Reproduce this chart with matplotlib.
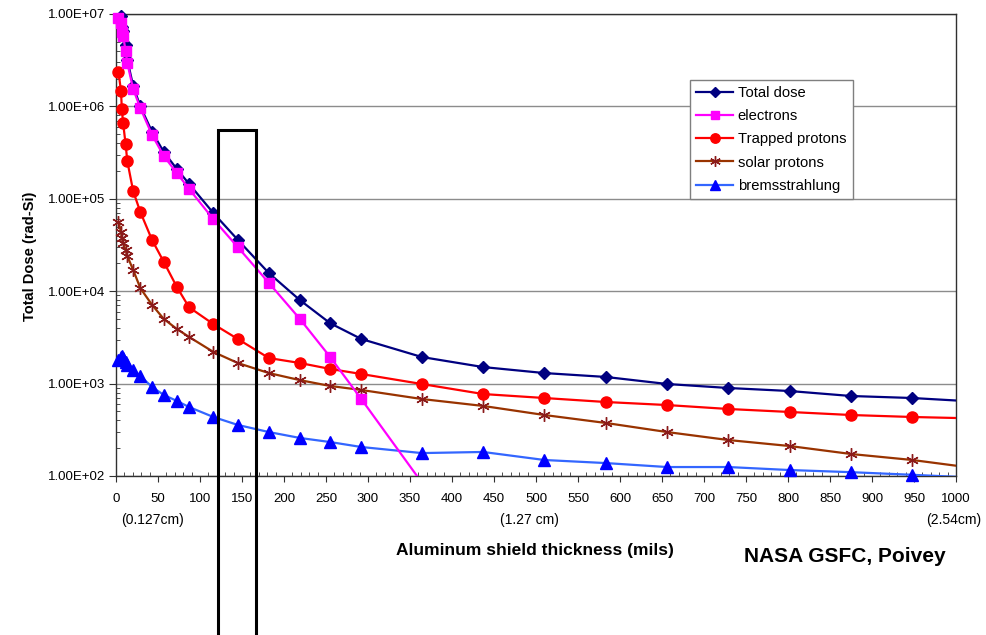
import matplotlib
matplotlib.use("Agg")
import matplotlib.pyplot as plt
from matplotlib.lines import Line2D
from matplotlib.patches import Rectangle
from matplotlib.ticker import FixedLocator, LogLocator, NullFormatter

plt.rcParams['font.family'] = ['Liberation Sans', 'DejaVu Sans']

# shield thickness in mils
thickness = [3, 6, 7, 8.5, 11.5, 13.5, 20.5, 29, 43, 57, 72.5, 87, 116, 145, 182, 219,
             255, 292, 364, 437, 510, 583, 656, 729, 802, 875, 948, 1021]

total_dose = [1.14e7, 9.5e6, 7.3e6, 6.5e6, 4.6e6, 3.2e6, 1.66e6, 1.0e6, 5.3e5, 3.2e5,
              2.1e5, 1.45e5, 7.0e4, 3.6e4, 1.57e4, 8.0e3, 4.5e3, 3.04e3, 1.94e3, 1.51e3,
              1.30e3, 1.18e3, 990, 896, 831, 734, 698, 640]
electrons = [9.05e6, 8.0e6, 6.4e6, 5.8e6, 4.0e6, 2.95e6, 1.54e6, 9.6e5, 4.9e5, 2.9e5,
             1.9e5, 1.28e5, 6.0e4, 3.0e4, 1.23e4, 5.0e3, 1.94e3, 681, 85]
trapped_protons = [2.36e6, 1.47e6, 9.4e5, 6.6e5, 3.9e5, 2.56e5, 1.21e5, 7.2e4, 3.58e4,
                   2.07e4, 1.11e4, 6.7e3, 4.4e3, 3.04e3, 1.89e3, 1.67e3, 1.44e3, 1.27e3,
                   990, 771, 698, 632, 586, 531, 493, 457, 435, 420]
solar_protons = [5.6e4, 4.4e4, 3.8e4, 3.3e4, 2.8e4, 2.4e4, 1.7e4, 1.08e4, 7.1e3, 5.0e3,
                 3.9e3, 3.2e3, 2.2e3, 1.67e3, 1.30e3, 1.09e3, 942, 853, 681, 573, 457,
                 375, 299, 245, 211, 173, 149, 122]
bremsstrahlung = [1.80e3, 1.94e3, 1.99e3, 1.89e3, 1.71e3, 1.59e3, 1.40e3, 1.21e3, 918,
                  753, 649, 558, 435, 357, 299, 258, 233, 206, 177, 182, 149, 138, 125,
                  125, 116, 110, 103, 96]

x_ticks = list(range(0, 1001, 50))
y_ticks = [1e2, 1e3, 1e4, 1e5, 1e6, 1e7]
y_ticklabels = ['1.00E+02', '1.00E+03', '1.00E+04', '1.00E+05', '1.00E+06', '1.00E+07']

series = [
    # label, values, line colour, marker, marker colour, size, z
    ('Total dose', total_dose, '#000080', 'D', '#000080', 6, 5),
    ('electrons', electrons, '#FF00FF', 's', '#FF00FF', 7.5, 6),
    ('Trapped protons', trapped_protons, '#FF0000', 'o', '#FF0000', 8, 4),
    ('solar protons', solar_protons, '#993300', (6, 2, 0), '#8B1A1A', 9, 3),
    ('bremsstrahlung', bremsstrahlung, '#3366FF', '^', '#0000FF', 8, 3),
]

fig = plt.figure(figsize=(9.86, 6.35), dpi=100)
ax = fig.add_axes([0.1176, 0.2504, 0.852, 0.7276])

handles = []
for label, vals, lc, mk, mc, ms, z in series:
    xs = thickness[:len(vals)]
    # lines are clipped to the plot area, markers are not
    ax.plot(xs, vals, color=lc, lw=1.6, zorder=z)
    pts = [(x, v) for x, v in zip(xs, vals) if x <= 1000 and 1e2 * 0.9 <= v <= 1e7 * 1.05]
    ax.plot([p[0] for p in pts], [p[1] for p in pts], ls='none', marker=mk, ms=ms,
            mfc=mc, mec=mc, mew=1.0, zorder=z, clip_on=False)
    handles.append(Line2D([], [], color=lc, lw=1.6, marker=mk, ms=ms * 0.85,
                          mfc=mc, mec=mc, mew=1.0, label=label))

ax.set_yscale('log')
ax.set_xlim(0, 1000)
ax.set_ylim(1e2, 1e7)
ax.yaxis.set_major_locator(FixedLocator(y_ticks))
ax.set_yticklabels(y_ticklabels)
ax.yaxis.set_minor_locator(LogLocator(base=10, subs=range(2, 10)))
ax.yaxis.set_minor_formatter(NullFormatter())
ax.set_xticks(x_ticks)
ax.set_xticks(range(0, 1001, 10), minor=True)

ax.grid(axis='y', which='major', color='#8c8c8c', lw=1.0)
ax.set_axisbelow(True)
for s in ax.spines.values():
    s.set_color('#303030')
    s.set_linewidth(1.0)

ax.tick_params(axis='y', which='major', direction='out', length=5, labelsize=9.5,
               color='#303030', pad=3)
ax.tick_params(axis='y', which='minor', direction='in', length=3, color='#303030')
ax.tick_params(axis='x', which='major', direction='out', length=4, labelsize=9.5,
               color='#303030', pad=8)
ax.tick_params(axis='x', which='minor', direction='in', length=3, color='#303030')

# metric equivalents under the axis
ax.text(43, -0.095, '(0.127cm)', transform=ax.get_xaxis_transform(), ha='center',
        va='center', fontsize=10)
ax.text(492, -0.095, '(1.27 cm)', transform=ax.get_xaxis_transform(), ha='center',
        va='center', fontsize=10)
ax.text(1030, -0.095, '(2.54cm)', transform=ax.get_xaxis_transform(), ha='right',
        va='center', fontsize=10)

fig.text(535 / 986, 1 - 550 / 635, 'Aluminum shield thickness (mils)', ha='center',
         va='center', fontsize=12.5, fontweight='bold')
fig.text(845 / 986, 1 - 557 / 635, 'NASA GSFC, Poivey', ha='center', va='center',
         fontsize=15, fontweight='bold')
fig.text(30 / 986, 1 - 256 / 635, 'Total Dose (rad-Si)', ha='center', va='center',
         rotation=90, fontsize=10.5, fontweight='bold')

leg = ax.legend(handles=handles, loc='upper left', bbox_to_anchor=(0.683, 0.858),
                fontsize=10.6, frameon=True, fancybox=False, edgecolor='#7f7f7f',
                framealpha=1, borderpad=0.45, labelspacing=0.62, handlelength=2.5,
                handletextpad=0.3, borderaxespad=0)
leg.get_frame().set_linewidth(1.0)
leg.set_zorder(20)

# highlight box around the 150 mil column
fig.patches.append(Rectangle((218 / 986, -0.01), 38 / 986, 1 - 130 / 635 + 0.01,
                             transform=fig.transFigure, fill=False, edgecolor='black',
                             lw=2.2, zorder=10))

fig.savefig('out.png', dpi=100)
